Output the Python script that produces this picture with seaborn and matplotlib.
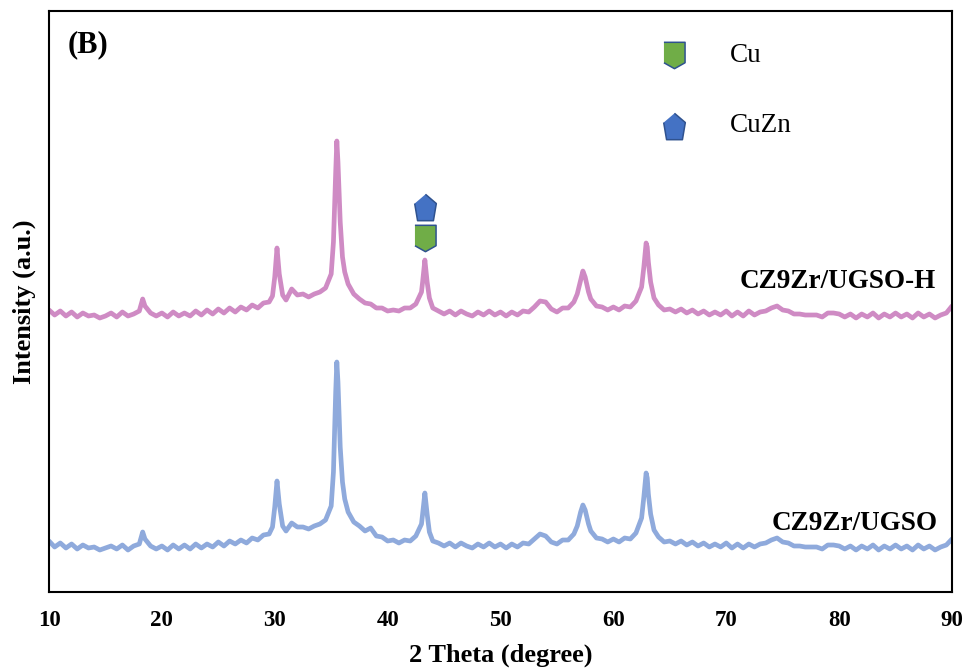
import matplotlib
matplotlib.use("Agg")
import matplotlib.pyplot as plt
import seaborn as sns
import pandas as pd

# ---- data (arbitrary intensity units) ----
two_theta = [
    10.0, 10.5, 11.0, 11.5, 12.0, 12.5, 13.0, 13.5, 14.0, 14.5, 15.0, 15.5, 16.0, 16.5, 17.0, 17.5, 18.0,
    18.1, 18.3, 18.5,
    19.0, 19.5, 20.0, 20.5, 21.0, 21.5, 22.0, 22.5, 23.0, 23.5, 24.0, 24.5, 25.0, 25.5, 26.0, 26.5, 27.0, 27.5, 28.0, 28.5, 29.0, 29.5,
    29.8, 30.0, 30.2, 30.4, 30.7,
    31.0, 31.5, 32.0, 32.5, 33.0, 33.5, 34.0, 34.5, 35.0,
    35.2, 35.4, 35.5, 35.6, 35.8, 36.0, 36.2, 36.5,
    37.0, 37.5, 38.0, 38.5, 39.0, 39.5, 40.0, 40.5, 41.0, 41.5, 42.0, 42.5, 43.0,
    43.1, 43.3, 43.5, 43.7,
    44.0, 44.5, 45.0, 45.5, 46.0, 46.5, 47.0, 47.5, 48.0, 48.5, 49.0, 49.5, 50.0, 50.5, 51.0, 51.5, 52.0, 52.5, 53.0, 53.5, 54.0, 54.5, 55.0, 55.5, 56.0, 56.5,
    56.8, 57.1, 57.3, 57.5, 57.8,
    58.0, 58.5, 59.0, 59.5, 60.0, 60.5, 61.0, 61.5, 62.0, 62.5,
    62.7, 62.9, 63.0, 63.1, 63.3, 63.6,
    64.0, 64.5, 65.0, 65.5, 66.0, 66.5, 67.0, 67.5, 68.0, 68.5,
    69.0, 69.5, 70.0, 70.5, 71.0, 71.5, 72.0, 72.5, 73.0, 73.5,
    74.0, 74.5, 75.0, 75.5, 76.0, 76.5, 77.0, 77.5, 78.0, 78.5,
    79.0, 79.5, 80.0, 80.5, 81.0, 81.5, 82.0, 82.5, 83.0, 83.5,
    84.0, 84.5, 85.0, 85.5, 86.0, 86.5, 87.0, 87.5, 88.0, 88.5,
    89.0, 89.5, 90.0,
]

ugso_h = [
    282, 277, 281, 276, 280, 275, 279, 276, 277, 274, 276, 279, 275, 280, 276, 278, 281,
    285, 293, 286,
    279, 276, 279, 275, 280, 276, 279, 276, 281, 277, 282, 278, 283, 279, 284, 280, 285, 282, 287, 284, 289, 290,
    296, 315, 344, 318, 297,
    292, 303, 297, 298, 295, 298, 300, 304, 318,
    350, 420, 451, 430, 370, 335, 320, 308,
    298, 293, 289, 288, 284, 284, 281, 282, 281, 284, 284, 288, 300,
    310, 332, 310, 294,
    284, 281, 278, 281, 277, 281, 278, 276, 280, 277, 281, 277, 280, 276, 280, 277, 281, 280, 285, 291, 290, 283, 280, 284, 284, 290,
    298, 312, 321, 315, 300,
    293, 286, 285, 282, 285, 282, 286, 285, 291, 305,
    325, 349, 345, 330, 310, 294,
    287, 282, 283, 280, 283, 279, 282, 278, 281, 277,
    280, 277, 281, 276, 280, 276, 281, 277, 280, 281,
    284, 286, 282, 281, 278, 278, 277, 277, 277, 275,
    279, 279, 278, 275, 278, 274, 278, 275, 279, 274,
    278, 275, 279, 275, 278, 274, 279, 275, 278, 274,
    277, 279, 286,
]

ugso = [
    51, 45, 49, 44, 48, 43, 47, 44, 45, 42, 44, 46, 43, 47, 42, 46, 48,
    52, 60, 53,
    46, 43, 46, 42, 47, 43, 47, 43, 48, 44, 48, 45, 50, 46, 51, 48, 52, 49, 54, 52, 57, 58,
    65, 85, 111, 88, 66,
    61, 69, 65, 65, 63, 66, 68, 72, 86,
    120, 200, 230, 210, 145, 110, 93, 80,
    70, 66, 61, 64, 56, 55, 51, 52, 49, 52, 51, 56, 68,
    78, 99, 78, 60,
    51, 49, 46, 49, 45, 49, 46, 44, 48, 45, 49, 45, 48, 44, 48, 45, 49, 48, 53, 58, 56, 50, 48, 52, 52, 58,
    66, 80, 87, 82, 68,
    61, 54, 53, 50, 53, 50, 54, 53, 59, 74,
    95, 119, 114, 98, 78, 62,
    55, 50, 51, 48, 51, 47, 50, 46, 49, 45,
    48, 45, 49, 44, 48, 44, 48, 45, 48, 49,
    52, 54, 50, 49, 46, 46, 45, 45, 45, 43,
    47, 47, 46, 43, 46, 42, 46, 43, 47, 42,
    46, 43, 47, 43, 46, 42, 47, 43, 46, 42,
    45, 47, 53,
]

series_names = ["CZ9Zr/UGSO-H", "CZ9Zr/UGSO"]
phase_names = ["Cu", "CuZn"]
peak_position = 43.3
marker_heights = [354, 385]          # Cu, CuZn marker above the peak
legend_x = 65.36
legend_y = [537, 466]

assert len(two_theta) == len(ugso_h) == len(ugso)

df = pd.DataFrame({
    "2 Theta": two_theta * 2,
    "Intensity": ugso_h + ugso,
    "sample": [series_names[0]] * len(two_theta) + [series_names[1]] * len(two_theta),
})

# ---- style ----
sns.set_style("white")
plt.rcParams["font.family"] = ["Liberation Serif", "DejaVu Serif"]
plt.rcParams["text.color"] = "black"
plt.rcParams["axes.labelcolor"] = "black"
plt.rcParams["xtick.color"] = "black"
plt.rcParams["ytick.color"] = "black"

fig = plt.figure(figsize=(9.68, 6.70), dpi=100)
ax = fig.add_axes([49 / 968, 78 / 670, (952 - 49) / 968, (592 - 11) / 670])

palette = {series_names[0]: "#CF8BC4", series_names[1]: "#8FAADC"}
sns.lineplot(data=df, x="2 Theta", y="Intensity", hue="sample", palette=palette,
             linewidth=3.4, legend=False, ax=ax, estimator=None)

ax.set_xlim(10, 90)
ax.set_ylim(0, 581)
ax.set_xticks([10, 20, 30, 40, 50, 60, 70, 80, 90])
ax.set_yticks([])
ax.tick_params(axis="x", length=0, pad=13, labelsize=16.5)
for lbl in ax.get_xticklabels():
    lbl.set_fontweight("bold")
ax.set_xlabel("2 Theta (degree)", fontsize=19, fontweight="bold", labelpad=9)
ax.set_ylabel("Intensity (a.u.)", fontsize=19, fontweight="bold", labelpad=9)

for sp in ax.spines.values():
    sp.set_visible(True)
    sp.set_color("black")
    sp.set_linewidth(1.5)

# ---- phase markers ----
cu_marker = [(-0.8, 1.0), (0.8, 1.0), (0.8, -0.55), (0.0, -1.0), (-0.8, -0.55)]
cuzn_marker = [(0.0, 1.0), (0.82, 0.3), (0.6, -1.0), (-0.6, -1.0), (-0.82, 0.3)]
edge = "#2F528F"
mk = dict(markersize=19, markeredgecolor=edge, markeredgewidth=1.1, linestyle="none")
ax.plot([peak_position], [marker_heights[0]], marker=cu_marker, markerfacecolor="#70AD47", **mk)
ax.plot([peak_position], [marker_heights[1]], marker=cuzn_marker, markerfacecolor="#4472C4", **mk)

# legend-like key
ax.plot([legend_x], [legend_y[0]], marker=cu_marker, markerfacecolor="#70AD47", **mk)
ax.plot([legend_x], [legend_y[1]], marker=cuzn_marker, markerfacecolor="#4472C4", **mk)
ax.text(70.3, legend_y[0], phase_names[0], fontsize=19.5, ha="left", va="center")
ax.text(70.3, legend_y[1], phase_names[1], fontsize=19.5, ha="left", va="center")

# ---- annotations ----
ax.text(79.9, 310, series_names[0], fontsize=19.5, fontweight="bold", ha="center", va="center")
ax.text(81.4, 69, series_names[1], fontsize=19.5, fontweight="bold", ha="center", va="center")
ax.text(11.65, 547, "(B)", fontsize=22, fontweight="bold", ha="left", va="center")

fig.savefig("out.png", dpi=100)
